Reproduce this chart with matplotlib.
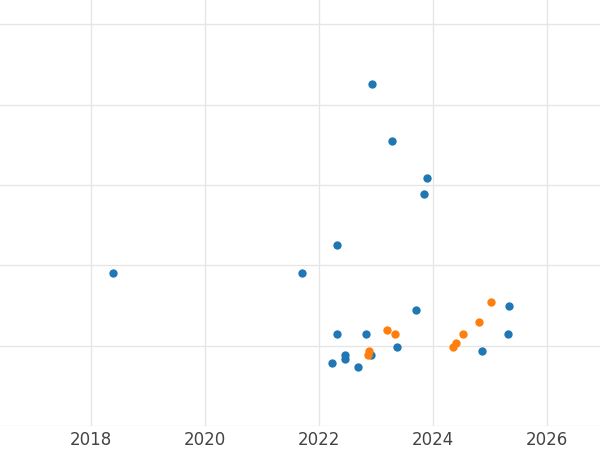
import matplotlib

matplotlib.use("Agg")

import matplotlib.pyplot as plt

# blue series
blue_x = [2018.39, 2021.70, 2022.93, 2023.28, 2023.90, 2023.84, 2022.32, 2023.70,
          2025.33, 2022.32, 2022.83, 2025.32, 2023.37, 2024.86, 2022.23, 2022.46,
          2022.46, 2022.69, 2022.91]
blue_y = [0.90, 0.90, 3.25, 2.55, 2.09, 1.89, 1.25, 0.45,
          0.50, 0.14, 0.14, 0.14, -0.01, -0.06, -0.21, -0.11,
          -0.16, -0.26, -0.11]

# orange series
orange_x = [2023.19, 2023.33, 2022.88, 2022.86, 2025.02, 2024.81, 2024.53, 2024.40, 2024.35]
orange_y = [0.19, 0.14, -0.06, -0.11, 0.55, 0.29, 0.14, 0.04, -0.01]

x_ticks = [2018, 2020, 2022, 2024, 2026]

fig = plt.figure(figsize=(6, 4.5), dpi=100)
ax = fig.add_axes([0, 0.053, 1, 0.947])

ax.scatter(blue_x, blue_y, s=36, color="#1f77b4", zorder=3, linewidths=0)
ax.scatter(orange_x, orange_y, s=36, color="#ff7f0e", zorder=3, linewidths=0)

ax.set_xlim(2016.404, 2026.93)
ax.set_ylim(-1, 4.3)
ax.set_xticks(x_ticks)
ax.set_yticks([-1, 0, 1, 2, 3, 4])
ax.set_yticklabels([])
ax.tick_params(length=0, labelsize=12, labelcolor="#444444")
ax.tick_params(axis="y", left=False, labelleft=False)
ax.grid(True, color="#e6e6e6", linewidth=1)
for s in ax.spines.values():
    s.set_visible(False)

fig.savefig("out.png", dpi=100)
